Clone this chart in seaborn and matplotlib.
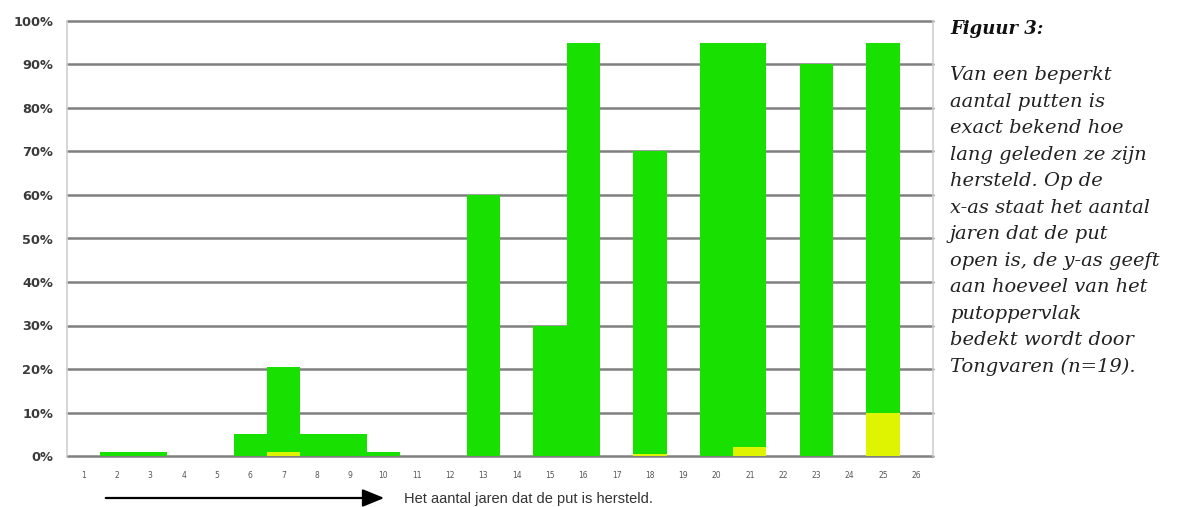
import matplotlib
matplotlib.use("Agg")
import matplotlib.pyplot as plt
import seaborn as sns
import pandas as pd

# Number of years since the well was restored (x-axis categories)
jaren = list(range(1, 27))
# Share of well surface covered (%), green part and the yellow part at the bottom
groen_totaal = [0, 1, 1, 0, 0, 5, 20.5, 5, 5, 1, 0, 0, 60, 0, 30, 95, 0, 70, 0, 95, 95, 0, 90, 0, 95, 0]
geel = [0, 0, 0, 0, 0, 0, 1, 0, 0, 0, 0, 0, 0, 0, 0, 0, 0, 0.5, 0, 0, 2, 0, 0, 0, 10, 0]
y_ticks = list(range(0, 101, 10))

df = pd.DataFrame({"jaar": [str(j) for j in jaren], "totaal": groen_totaal, "geel": geel})
orde = [str(j) for j in jaren]

sns.set_theme(style="white")
plt.rcParams["font.family"] = ["DejaVu Sans"]

W, H = 1197, 507
fig = plt.figure(figsize=(W / 100, H / 100), dpi=100)
L, R, T, B = 67, 933, 21, 456
ax = fig.add_axes([L / W, 1 - B / H, (R - L) / W, (B - T) / H])

GROEN = "#18e000"
GEEL = "#dff400"

sns.barplot(data=df, x="jaar", y="totaal", order=orde, color=GROEN, width=1.0,
            saturation=1, edgecolor="none", linewidth=0, ax=ax, zorder=3)
sns.barplot(data=df, x="jaar", y="geel", order=orde, color=GEEL, width=1.0,
            saturation=1, edgecolor="none", linewidth=0, ax=ax, zorder=4)

ax.set_xlim(-0.5, len(jaren) - 0.5)
ax.set_ylim(0, 100)
ax.set_yticks(y_ticks)
ax.set_yticklabels([f"{v}%" for v in y_ticks], fontsize=9.3, fontweight="bold", color="#3a3a3a")
ax.tick_params(axis="y", length=0, pad=10)
ax.tick_params(axis="x", length=0, pad=11, labelsize=5.5, labelcolor="#555555")
ax.set_xlabel("")
ax.set_ylabel("")

# horizontal grid lines, drawn behind the bars
for v in y_ticks:
    ax.axhline(v, color="#808080", lw=1.8, zorder=1, clip_on=False)

for side in ["top", "bottom"]:
    ax.spines[side].set_visible(False)
for side in ["left", "right"]:
    ax.spines[side].set_color("#d0d0d0")
    ax.spines[side].set_linewidth(1.2)

# arrow with axis description below the chart
fig.patches.append(matplotlib.patches.FancyArrowPatch(
    (103 / W, 1 - 498 / H), (387 / W, 1 - 498 / H), transform=fig.transFigure,
    arrowstyle="-|>,head_length=1.1,head_width=0.45", mutation_scale=12,
    color="black", lw=1.6))
fig.text(404 / W, 1 - 499 / H, "Het aantal jaren dat de put is hersteld.",
         fontsize=10.5, color="#333333", va="center", ha="left",
         family=["Liberation Sans", "DejaVu Sans"])

# caption on the right
fig.text(950 / W, 1 - 29 / H, "Figuur 3:", fontsize=13, fontweight="bold",
         style="italic", family=["DejaVu Serif"], color="#111111", va="center", ha="left")
body = ("Van een beperkt\n"
        "aantal putten is\n"
        "exact bekend hoe\n"
        "lang geleden ze zijn\n"
        "hersteld. Op de\n"
        "x-as staat het aantal\n"
        "jaren dat de put\n"
        "open is, de y-as geeft\n"
        "aan hoeveel van het\n"
        "putoppervlak\n"
        "bedekt wordt door\n"
        "Tongvaren (n=19).")
fig.text(950 / W, 1 - 66 / H, body, fontsize=14, style="italic",
         family=["DejaVu Serif"], color="#222222", va="top", ha="left",
         linespacing=1.61)

fig.savefig("out.png", dpi=100)
